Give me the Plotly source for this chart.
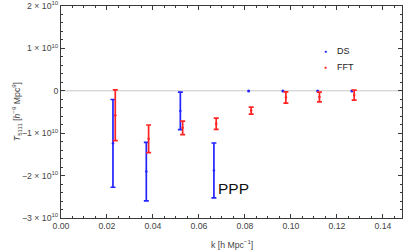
import plotly.graph_objects as go

# ---- data ----
k_ds = [0.0226, 0.0371, 0.0519, 0.0665, 0.0816, 0.0965, 0.1116, 0.1265]
t_ds = [-1.24e10, -1.906e10, -0.474e10, -1.878e10, -0.004e10, -0.004e10, -0.004e10, -0.004e10]
err_ds = [1.035e10, 0.69e10, 0.444e10, 0.647e10, 0, 0, 0, 0]

k_fft = [0.0236, 0.0381, 0.0529, 0.0675, 0.0827, 0.0978, 0.1124, 0.1275]
t_fft = [-0.576e10, -1.133e10, -0.874e10, -0.777e10, -0.466e10, -0.157e10, -0.145e10, -0.10e10]
err_fft = [0.60e10, 0.326e10, 0.161e10, 0.134e10, 0.082e10, 0.133e10, 0.114e10, 0.118e10]

ytick_vals = [-3e10, -2e10, -1e10, 0, 1e10, 2e10]
ytick_text = ["−3 × 10<sup>10</sup>", "−2 × 10<sup>10</sup>", "−1 × 10<sup>10</sup>", "0",
              "1 × 10<sup>10</sup>", "2 × 10<sup>10</sup>"]
xtick_vals = [0.00, 0.02, 0.04, 0.06, 0.08, 0.10, 0.12, 0.14]
xtick_text = ["0.00", "0.02", "0.04", "0.06", "0.08", "0.10", "0.12", "0.14"]

BLUE = "rgb(35,35,255)"
RED = "rgb(255,35,35)"
FRAME = "#3a3a3a"
TXT = "#444444"
FONT = "Liberation Sans, Arial, sans-serif"


def add_series(fig, ks, ts, es, col, name):
    with_err = [(k, t, e) for k, t, e in zip(ks, ts, es) if e > 0]
    no_err = [(k, t) for k, t, e in zip(ks, ts, es) if e <= 0]
    if with_err:
        fig.add_trace(go.Scatter(
            x=[p[0] for p in with_err], y=[p[1] for p in with_err], mode="markers", name=name,
            marker=dict(color=col, size=2.5),
            error_y=dict(type="data", array=[p[2] for p in with_err], symmetric=True,
                         color=col, thickness=1.7, width=2.5),
            showlegend=False))
    if no_err:
        fig.add_trace(go.Scatter(
            x=[p[0] for p in no_err], y=[p[1] for p in no_err], mode="markers", name=name,
            marker=dict(color=col, size=3), showlegend=False))


fig = go.Figure()
add_series(fig, k_ds, t_ds, err_ds, BLUE, "DS")
add_series(fig, k_fft, t_fft, err_fft, RED, "FFT")

axis_common = dict(
    showgrid=False, zeroline=False, showline=True, linecolor=FRAME, linewidth=1,
    mirror="allticks", ticks="inside", ticklen=4, tickwidth=1, tickcolor=FRAME,
    tickfont=dict(family=FONT, size=8.7, color=TXT), ticklabeloverflow="allow",
    automargin=False,
)

fig.update_xaxes(range=[0, 0.1483], tickvals=xtick_vals, ticktext=xtick_text,
                 minor=dict(dtick=0.005, ticks="inside", ticklen=2, tickcolor=FRAME, showgrid=False),
                 **axis_common)
fig.update_yaxes(range=[-3.0001e10, 2.0001e10], tickvals=ytick_vals, ticktext=ytick_text,
                 minor=dict(dtick=0.2e10, ticks="inside", ticklen=2, tickcolor=FRAME, showgrid=False),
                 **axis_common)

# zero line
fig.add_hline(y=0, line=dict(color="#c8c8c8", width=1), layer="below")

# legend (manual)
legend_items = [("DS", BLUE, 0.79), ("FFT", RED, 0.71)]
for name, col, yy in legend_items:
    fig.add_annotation(x=0.777, y=yy, xref="paper", yref="paper", text="●",
                       showarrow=False, font=dict(size=5, color=col), xanchor="center", yanchor="middle")
    fig.add_annotation(x=0.803, y=yy, xref="paper", yref="paper", text=name,
                       showarrow=False, font=dict(family=FONT, size=9, color="#222"),
                       xanchor="left", yanchor="middle")

# PPP label
fig.add_annotation(x=0.0676, y=-2.31e10, text="PPP", showarrow=False, xanchor="left", yanchor="middle",
                   font=dict(family=FONT, size=15.5, color="#111"))

# axis titles
fig.add_annotation(x=0.5, y=-0.085, xref="paper", yref="paper", yanchor="top",
                   text="k [h Mpc<sup>−1</sup>]", showarrow=False,
                   font=dict(family=FONT, size=8.7, color=TXT))
fig.add_annotation(x=-0.155, y=0.5, xref="paper", yref="paper", textangle=-90,
                   text="<i>T</i><sub>5111</sub> [<i>h</i><sup>−9</sup> Mpc<sup>9</sup>]",
                   showarrow=False, font=dict(family=FONT, size=8.7, color=TXT))

fig.update_layout(width=407, height=252, margin=dict(l=61, r=5, t=6, b=34),
                  plot_bgcolor="white", paper_bgcolor="white", showlegend=False)

fig.write_html("out.html", config={"displayModeBar": False},
               post_script="document.body.style.margin='0';")
